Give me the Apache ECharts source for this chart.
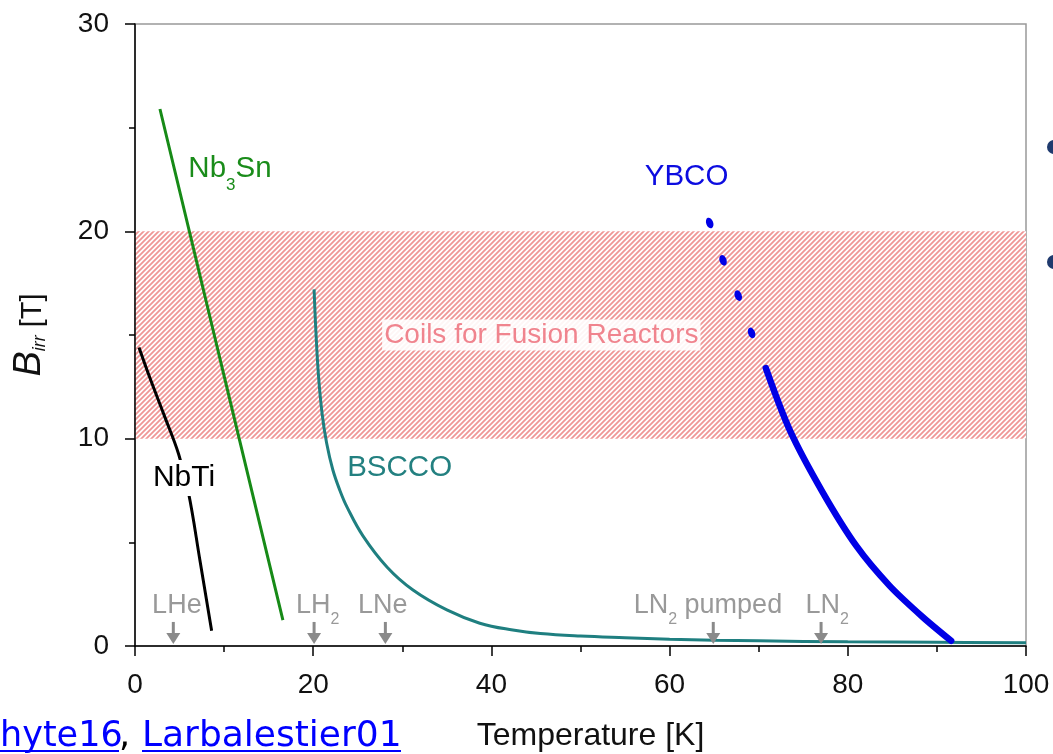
<!DOCTYPE html>
<html><head><meta charset="utf-8">
<script src="https://cdn.jsdelivr.net/npm/echarts/dist/echarts.min.js"></script>
<style>html,body{margin:0;padding:0;background:#fff;overflow:hidden}#c{width:1053px;height:754px}</style>
</head><body><div id="c"></div>
<script>
// ---------- data ----------
const nbtiT = [0.45, 1.7, 3.3, 4.9, 6.0, 7.3, 8.6];
const nbtiB = [14.4, 12.9, 11.1, 9.25, 7.4, 4.1, 0.73];

const nb3snT = [2.8, 10.1, 16.6];
const nb3snB = [25.9, 12.85, 1.25];

const bsccoT = [20.1, 20.3, 20.6, 21.0, 21.5, 22.2, 23.0, 23.8, 25.6, 28.3, 31.2, 35.0, 38.7, 42.4, 45.5, 50, 55, 60, 65, 70, 80, 90, 100];
const bsccoB = [17.2, 15.2, 13.0, 11.2, 9.8, 8.5, 7.5, 6.7, 5.3, 3.8, 2.7, 1.74, 1.1, 0.77, 0.6, 0.48, 0.4, 0.33, 0.28, 0.25, 0.2, 0.18, 0.16];

const ybcoT = [70.8, 73.5, 77.2, 81.0, 84.7, 88.4, 91.6];
const ybcoB = [13.4, 10.4, 7.4, 4.8, 2.9, 1.4, 0.25];

const ybcoDotT = [64.5, 66.0, 67.7, 69.2];
const ybcoDotB = [20.4, 18.6, 16.9, 15.1];

const bandLow = 10, bandHigh = 20;

const coolantT = [4.3, 20.1, 28.1, 64.9, 77.0];
const arrowTop = 1.16, arrowTip = 0.1;

const annText = ['Nb{s|3}Sn', 'NbTi', 'BSCCO', 'YBCO', 'Coils for Fusion Reactors', 'LHe', 'LH{s|2}', 'LNe', 'LN{s|2} pumped', 'LN{s|2}'];
const annT = [10.66, 5.5, 29.7, 61.9, 45.6, 4.7, 20.5, 27.8, 64.3, 77.7];
const annB = [23.0, 8.1, 8.6, 22.65, 15.0, 1.93, 1.93, 1.93, 1.93, 1.93];

const xTicks = [0, 20, 40, 60, 80, 100];
const yTicks = [0, 10, 20, 30];

// ---------- styles ----------
const FONT = '"Liberation Sans", Arial, sans-serif';
function sub(color, size, shift) { return { fontSize: size, color: color, fontFamily: FONT, padding: [shift * 2, 0, 0, 0] }; }
const GRAY = '#999999';
const annStyles = [
  { color: '#1a8c1a', fontSize: 29.5, rich: { s: sub('#1a8c1a', 17, 16) } },
  { color: '#000', fontSize: 30, backgroundColor: '#fff', padding: [3, 2, 3, 2] },
  { color: '#238080', fontSize: 29.5 },
  { color: '#0c0ce0', fontSize: 29.5 },
  { color: '#f0848e', fontSize: 28, backgroundColor: 'rgba(255,255,255,0.9)', padding: [2, 2, 1, 2] },
  { color: GRAY, fontSize: 27 },
  { color: GRAY, fontSize: 27, rich: { s: sub(GRAY, 16, 14) } },
  { color: GRAY, fontSize: 27 },
  { color: GRAY, fontSize: 27, rich: { s: sub(GRAY, 16, 14) } },
  { color: GRAY, fontSize: 27, rich: { s: sub(GRAY, 16, 14) } }
];

function hatch() {
  const s = 5, c = document.createElement('canvas');
  c.width = s; c.height = s;
  const g = c.getContext('2d');
  g.fillStyle = '#fff'; g.fillRect(0, 0, s, s);
  g.strokeStyle = '#ef9696'; g.lineWidth = 1.8;
  g.beginPath();
  g.moveTo(0, s); g.lineTo(s, 0);
  g.moveTo(-1, 1); g.lineTo(1, -1);
  g.moveTo(s - 1, s + 1); g.lineTo(s + 1, s - 1);
  g.stroke();
  return c;
}

const zip = (a, b) => a.map((v, i) => [v, b[i]]);

const chart = echarts.init(document.getElementById('c'), null, { renderer: 'canvas' });

const axisCommon = {
  type: 'value',
  z: 2,
  axisLine: { show: true, lineStyle: { color: '#000', width: 1.5 } },
  axisTick: { show: true, length: 10, lineStyle: { color: '#000', width: 1.5 } },
  minorTick: { show: true, splitNumber: 2, length: 6, lineStyle: { color: '#000', width: 1.5 } },
  splitLine: { show: false },
  axisLabel: { fontSize: 28, color: '#111', fontFamily: FONT }
};

chart.setOption({
  animation: false,
  backgroundColor: '#fff',
  grid: { show: true, borderColor: '#999', borderWidth: 1.5, left: 135, right: 27, top: 24, bottom: 108, containLabel: false, outerBoundsMode: 'none' },
  xAxis: Object.assign({}, axisCommon, {
    min: xTicks[0], max: xTicks[xTicks.length - 1], interval: xTicks[1] - xTicks[0],
    axisLabel: Object.assign({}, axisCommon.axisLabel, { margin: 25 }),
    name: 'Temperature [K]', nameLocation: 'middle', nameGap: 74,
    nameTextStyle: { fontSize: 32, color: '#111', fontFamily: FONT, padding: [0, 0, 0, 20] }
  }),
  yAxis: Object.assign({}, axisCommon, {
    min: yTicks[0], max: yTicks[yTicks.length - 1], interval: yTicks[1] - yTicks[0],
    axisLabel: Object.assign({}, axisCommon.axisLabel, { margin: 26 }),
    name: '{b|B}{s|irr}{t| [T]}', nameLocation: 'middle', nameGap: 86, nameRotate: 90,
    nameTextStyle: {
      rich: {
        b: { fontSize: 38, fontStyle: 'italic', fontFamily: FONT, color: '#111' },
        s: { fontSize: 18, fontStyle: 'italic', fontFamily: FONT, color: '#111', padding: [22, 0, 0, 0] },
        t: { fontSize: 29, fontFamily: FONT, color: '#111', padding: [7, 0, 0, 0] }
      }
    }
  }),
  graphic: [
    { type: 'text', x: 0, y: 737, style: { text: 'hyte16', fill: '#0000ff', font: '35px "DejaVu Sans"', verticalAlign: 'middle' } },
    { type: 'text', x: 119, y: 737, style: { text: ',', fill: '#000', font: '35px "DejaVu Sans"', verticalAlign: 'middle' } },
    { type: 'text', x: 142, y: 737, style: { text: 'Larbalestier01', fill: '#0000ff', font: '36px "DejaVu Sans"', verticalAlign: 'middle' } },
    { type: 'rect', shape: { x: 0, y: 750, width: 119, height: 2 }, style: { fill: '#0000ff' } },
    { type: 'rect', shape: { x: 142, y: 750, width: 259, height: 2 }, style: { fill: '#0000ff' } },
    { type: 'circle', shape: { cx: 1054, cy: 147, r: 7 }, style: { fill: '#1f3a6e' } },
    { type: 'circle', shape: { cx: 1054, cy: 262, r: 7 }, style: { fill: '#1f3a6e' } }
  ],
  series: [
    {
      type: 'line', data: [], z: 1, silent: true,
      markArea: {
        silent: true, label: { show: false },
        itemStyle: { color: { image: hatch(), repeat: 'repeat' }, opacity: 1 },
        data: [[{ xAxis: xTicks[0], yAxis: bandLow }, { xAxis: xTicks[xTicks.length - 1], yAxis: bandHigh }]]
      }
    },
    { name: 'NbTi', type: 'line', z: 3, data: zip(nbtiT, nbtiB), smooth: 0.4, showSymbol: false, lineStyle: { color: '#000', width: 3 } },
    { name: 'Nb3Sn', type: 'line', z: 3, data: zip(nb3snT, nb3snB), showSymbol: false, lineStyle: { color: '#178a17', width: 3 } },
    { name: 'BSCCO', type: 'line', z: 3, data: zip(bsccoT, bsccoB), smooth: 0.4, showSymbol: false, lineStyle: { color: '#1f7f80', width: 3 } },
    { name: 'YBCO', type: 'line', z: 3, data: zip(ybcoT, ybcoB), smooth: 0.3, showSymbol: false, lineStyle: { color: '#0000e6', width: 6.5, cap: 'round' } },
    { name: 'YBCO dots', type: 'scatter', z: 3, data: zip(ybcoDotT, ybcoDotB), symbol: 'circle', symbolSize: [7, 11], symbolRotate: 20, itemStyle: { color: '#0000e6', opacity: 1 } },
    {
      type: 'custom', z: 4, silent: true,
      data: coolantT.map(t => [t, arrowTop, arrowTip]),
      encode: { x: 0, y: [1, 2] },
      renderItem: function (p, api) {
        const a = api.coord([api.value(0), api.value(1)]);
        const b = api.coord([api.value(0), api.value(2)]);
        const hw = 7, hh = 11;
        return {
          type: 'group', children: [
            { type: 'line', shape: { x1: a[0], y1: a[1], x2: b[0], y2: b[1] - hh + 1 }, style: { stroke: '#8a8a8a', lineWidth: 3 } },
            { type: 'polygon', shape: { points: [[b[0] - hw, b[1] - hh], [b[0] + hw, b[1] - hh], [b[0], b[1]]] }, style: { fill: '#8a8a8a' } }
          ]
        };
      }
    },
    {
      type: 'scatter', z: 5, silent: true, symbolSize: 0,
      itemStyle: { opacity: 1 },
      data: annText.map((txt, i) => ({
        value: [annT[i], annB[i]],
        label: Object.assign({ show: true, position: 'inside', opacity: 1, formatter: txt, fontFamily: FONT, align: 'center', verticalAlign: 'middle' }, annStyles[i])
      }))
    }
  ]
});
</script></body></html>
